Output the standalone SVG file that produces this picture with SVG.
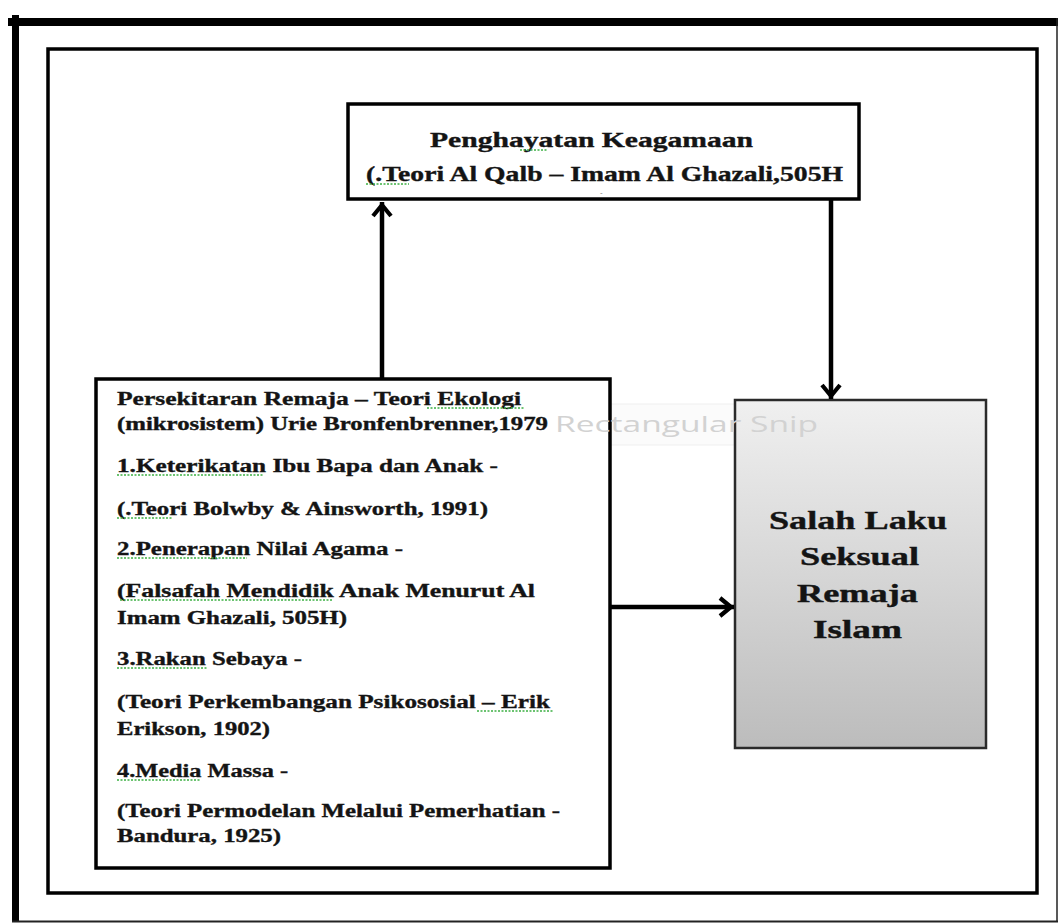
<svg xmlns="http://www.w3.org/2000/svg" width="1058" height="924" viewBox="0 0 1058 924">
<style>
.box{fill:#fff;stroke:#000;stroke-width:3.5}
.t{font-family:"Liberation Serif","Times New Roman",serif;font-weight:bold;fill:#141414;stroke:#141414;stroke-width:0.35;font-size:18px}
.tt{font-family:"Liberation Serif","Times New Roman",serif;font-weight:bold;fill:#141414;stroke:#141414;stroke-width:0.35;font-size:20px}
.big{font-family:"Liberation Serif","Times New Roman",serif;font-weight:bold;fill:#141414;stroke:#141414;stroke-width:0.4;font-size:26px}
.conn{stroke:#000;stroke-width:4.5;fill:none}
.sq{stroke:#3cb043;stroke-width:1.3;stroke-dasharray:2 1.5;fill:none}
.snip{font-family:"Open Sans","Noto Sans",sans-serif;font-size:21px;fill:#d2d2d2}
</style>
<defs>
<marker id="arr" markerUnits="userSpaceOnUse" viewBox="-20 -15 30 30" refX="0" refY="0" markerWidth="30" markerHeight="30" orient="auto">
<path d="M-14,-9 L-3,0 L-14,9" fill="none" stroke="#000" stroke-width="4.2"/>
</marker>
<linearGradient id="grad" x1="0" y1="0" x2="0" y2="1">
<stop offset="0" stop-color="#f0f0f0"/>
<stop offset="1" stop-color="#bcbcbc"/>
</linearGradient>
</defs>
<rect width="1058" height="924" fill="#fff"/>
<g id="outer-frame">
<rect x="8" y="18" width="1050" height="8" fill="#000"/>
<rect x="12" y="15" width="7" height="907" fill="#000"/>
<line x1="1057" y1="18" x2="1057" y2="922" stroke="#222" stroke-width="1.5"/>
<line x1="12" y1="921.5" x2="1058" y2="921.5" stroke="#222" stroke-width="2"/>
</g>
<g id="inner-frame">
<rect x="48" y="49" width="989" height="844" fill="none" stroke="#000" stroke-width="3.5"/>
</g>
<g id="snip-watermark">
<rect x="536" y="404" width="416" height="41" fill="#fbfbfb" stroke="#efefef" stroke-width="1"/>
</g>
<g id="node-penghayatan">
<rect class="box" x="348" y="104" width="511" height="95"/>
<text class="tt" x="430" y="147" textLength="323" lengthAdjust="spacingAndGlyphs">Penghayatan Keagamaan</text>
<text class="tt" x="366" y="181" textLength="477" lengthAdjust="spacingAndGlyphs">(.Teori Al Qalb – Imam Al Ghazali,505H</text>
<text x="600" y="195" font-family="Liberation Sans, sans-serif" font-size="8" fill="#777">-</text>
<path class="sq" d="M520,150 H548 M366,184 H409"/>
</g>
<g id="node-persekitaran">
<rect class="box" x="96" y="379" width="514" height="489"/>
<text class="t" x="117" y="405" textLength="404" lengthAdjust="spacingAndGlyphs">Persekitaran  Remaja – Teori Ekologi</text>
<text class="t" x="117" y="430" textLength="431" lengthAdjust="spacingAndGlyphs">(mikrosistem)  Urie  Bronfenbrenner,1979</text>
<text class="t" x="117" y="472" textLength="381" lengthAdjust="spacingAndGlyphs">1.Keterikatan  Ibu Bapa dan Anak -</text>
<text class="t" x="117" y="515" textLength="371" lengthAdjust="spacingAndGlyphs">(.Teori Bolwby &amp; Ainsworth, 1991)</text>
<text class="t" x="117" y="555" textLength="286" lengthAdjust="spacingAndGlyphs">2.Penerapan Nilai Agama  -</text>
<text class="t" x="117" y="597" textLength="418" lengthAdjust="spacingAndGlyphs">(Falsafah Mendidik Anak Menurut  Al</text>
<text class="t" x="117" y="624" textLength="230" lengthAdjust="spacingAndGlyphs">Imam  Ghazali, 505H)</text>
<text class="t" x="117" y="665" textLength="185" lengthAdjust="spacingAndGlyphs">3.Rakan Sebaya -</text>
<text class="t" x="117" y="708" textLength="433" lengthAdjust="spacingAndGlyphs">(Teori  Perkembangan  Psikososial – Erik</text>
<text class="t" x="117" y="735" textLength="153" lengthAdjust="spacingAndGlyphs">Erikson, 1902)</text>
<text class="t" x="117" y="777" textLength="171" lengthAdjust="spacingAndGlyphs">4.Media Massa -</text>
<text class="t" x="117" y="817" textLength="443" lengthAdjust="spacingAndGlyphs">(Teori Permodelan Melalui Pemerhatian -</text>
<text class="t" x="117" y="842" textLength="164" lengthAdjust="spacingAndGlyphs">Bandura, 1925)</text>
<path class="sq" d="M427,408 H525 M117,475 H263 M117,518 H173 M117,558 H247 M120,600 H333 M117,668 H208 M477,711 H553 M117,780 H200"/>
</g>
<g id="node-salah-laku">
<rect x="735" y="400" width="251" height="348" fill="url(#grad)" stroke="#2a2a2a" stroke-width="2.5"/>
<text class="big" x="769" y="529" textLength="178" lengthAdjust="spacingAndGlyphs">Salah Laku</text>
<text class="big" x="800" y="565" textLength="119" lengthAdjust="spacingAndGlyphs">Seksual</text>
<text class="big" x="797" y="602" textLength="121" lengthAdjust="spacingAndGlyphs">Remaja</text>
<text class="big" x="813" y="638" textLength="89" lengthAdjust="spacingAndGlyphs">Islam</text>
</g>
<g id="snip-text">
<text class="snip" x="555" y="432" textLength="263" lengthAdjust="spacingAndGlyphs">Rectangular Snip</text>
</g>
<g id="connectors">
<line class="conn" x1="382" y1="379" x2="382" y2="202" marker-end="url(#arr)"/>
<line class="conn" x1="831" y1="199" x2="831" y2="399" marker-end="url(#arr)"/>
<line class="conn" x1="611" y1="607" x2="734" y2="607" marker-end="url(#arr)"/>
</g>
</svg>
